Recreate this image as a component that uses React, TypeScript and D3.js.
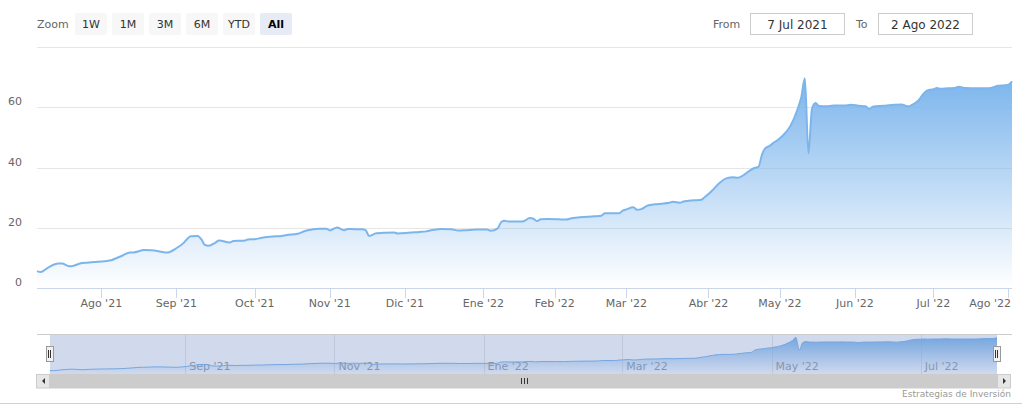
import React from "react";
import * as d3 from "d3";

// ---------- data ----------
const fundData: [string, number][] = [
  ["2021-07-07", 5.6], ["2021-07-08", 5.3], ["2021-07-12", 6.7], ["2021-07-15", 8.1], ["2021-07-16", 8.1],
  ["2021-07-20", 7.2], ["2021-07-21", 7.3], ["2021-07-23", 8.1], ["2021-07-27", 8.4], ["2021-07-29", 8.6],
  ["2021-08-03", 8.9], ["2021-08-05", 9.3], ["2021-08-06", 9.8], ["2021-08-10", 10.8], ["2021-08-12", 11.8],
  ["2021-08-13", 11.8], ["2021-08-19", 12.6], ["2021-08-23", 12.5], ["2021-08-25", 12.2], ["2021-08-27", 11.8],
  ["2021-08-30", 11.9], ["2021-09-01", 13.2], ["2021-09-03", 14.9], ["2021-09-06", 16.2], ["2021-09-07", 17.2],
  ["2021-09-09", 17.3], ["2021-09-10", 16.2], ["2021-09-13", 14.3], ["2021-09-14", 14.0], ["2021-09-16", 15.1],
  ["2021-09-17", 15.8], ["2021-09-22", 15.1], ["2021-09-23", 15.6], ["2021-09-28", 15.7], ["2021-09-29", 16.1],
  ["2021-10-01", 16.2], ["2021-10-05", 16.7], ["2021-10-08", 17.1], ["2021-10-12", 17.2], ["2021-10-14", 17.6],
  ["2021-10-19", 18.0], ["2021-10-21", 18.9], ["2021-10-25", 19.4], ["2021-10-27", 19.7], ["2021-10-29", 19.7],
  ["2021-11-02", 19.1], ["2021-11-04", 20.1], ["2021-11-08", 19.2], ["2021-11-09", 19.6], ["2021-11-11", 19.5],
  ["2021-11-15", 19.5], ["2021-11-16", 19.2], ["2021-11-17", 17.3], ["2021-11-19", 18.2], ["2021-11-23", 18.3],
  ["2021-11-26", 18.4], ["2021-11-29", 18.1], ["2021-12-02", 18.3], ["2021-12-07", 18.6], ["2021-12-09", 18.8],
  ["2021-12-13", 19.3], ["2021-12-15", 19.6], ["2021-12-20", 19.5], ["2021-12-22", 19.1], ["2021-12-24", 19.2],
  ["2021-12-29", 19.4], ["2022-01-04", 19.4], ["2022-01-05", 19.0], ["2022-01-10", 19.8], ["2022-01-11", 21.9],
  ["2022-01-12", 22.3], ["2022-01-13", 22.1], ["2022-01-19", 22.1], ["2022-01-21", 23.2], ["2022-01-24", 23.0],
  ["2022-01-25", 22.2], ["2022-01-26", 22.8], ["2022-01-28", 22.9], ["2022-02-02", 22.8], ["2022-02-04", 22.7],
  ["2022-02-08", 23.2], ["2022-02-10", 23.5], ["2022-02-16", 23.8], ["2022-02-18", 24.0], ["2022-02-21", 24.8],
  ["2022-02-25", 24.8], ["2022-02-28", 25.7], ["2022-03-01", 26.1], ["2022-03-03", 26.8], ["2022-03-04", 26.0],
  ["2022-03-07", 26.1], ["2022-03-09", 27.4], ["2022-03-11", 27.8], ["2022-03-15", 28.0], ["2022-03-17", 28.3],
  ["2022-03-18", 28.6], ["2022-03-22", 28.3], ["2022-03-23", 28.7], ["2022-03-28", 29.1], ["2022-03-30", 29.3],
  ["2022-03-31", 30.2], ["2022-04-04", 32.3], ["2022-04-06", 34.8], ["2022-04-08", 36.4], ["2022-04-12", 36.8],
  ["2022-04-13", 36.6], ["2022-04-18", 37.6], ["2022-04-19", 38.5], ["2022-04-21", 39.9], ["2022-04-22", 40.2],
  ["2022-04-25", 44.3], ["2022-04-26", 46.5], ["2022-04-27", 47.1], ["2022-04-28", 48.0], ["2022-05-03", 49.7],
  ["2022-05-04", 50.8], ["2022-05-06", 53.9], ["2022-05-10", 59.5], ["2022-05-11", 63.3], ["2022-05-12", 69.6],
  ["2022-05-13", 44.7], ["2022-05-16", 59.5], ["2022-05-17", 61.4], ["2022-05-18", 60.4], ["2022-05-20", 60.3],
  ["2022-05-24", 60.6], ["2022-05-27", 60.6], ["2022-05-31", 60.8], ["2022-06-02", 60.5], ["2022-06-06", 60.3],
  ["2022-06-07", 59.4], ["2022-06-08", 60.2], ["2022-06-13", 60.5], ["2022-06-16", 60.8], ["2022-06-20", 60.9],
  ["2022-06-22", 60.3], ["2022-06-23", 60.8], ["2022-06-24", 61.5], ["2022-06-27", 62.5], ["2022-06-28", 64.2],
  ["2022-06-29", 65.4], ["2022-06-30", 65.8], ["2022-07-01", 66.0], ["2022-07-04", 66.4], ["2022-07-05", 66.1],
  ["2022-07-07", 66.3], ["2022-07-11", 66.4], ["2022-07-12", 66.8], ["2022-07-14", 66.4], ["2022-07-19", 66.3],
  ["2022-07-22", 66.3], ["2022-07-25", 66.4], ["2022-07-27", 67.1], ["2022-07-29", 67.3], ["2022-08-01", 67.5],
  ["2022-08-02", 68.6],
];

// non-trading days removed from the ordinal axis
const holidays = ["2021-08-16", "2021-11-01", "2021-12-31", "2022-01-06", "2022-04-15", "2022-05-02"];
const startDate = "2021-07-07";
const endDate = "2022-08-02";
const monthNames = ["Ene", "Feb", "Mar", "Abr", "May", "Jun", "Jul", "Ago", "Sep", "Oct", "Nov", "Dic"];
const navMonths = [8, 10, 0, 2, 4, 6];
const yTicks = [0, 20, 40, 60, 80];
const rangeButtons = ["1W", "1M", "3M", "6M", "YTD", "All"];
const selectedButton = "All";
const fromLabel = "7 Jul 2021";
const toLabel = "2 Ago 2022";
const creditText = "Estrategias de Inversión";

// ---------- helpers ----------
const parse = (s: string) => {
  const [y, m, d] = s.split("-").map(Number);
  return new Date(Date.UTC(y, m - 1, d));
};
const key = (d: Date) => d.toISOString().slice(0, 10);

function buildCalendar() {
  const hol = new Set(holidays);
  const days: Date[] = [];
  const end = parse(endDate).getTime();
  for (let t = parse(startDate).getTime(); t <= end; t += 86400000) {
    const d = new Date(t);
    const wd = d.getUTCDay();
    if (wd === 0 || wd === 6) continue;
    if (hol.has(key(d))) continue;
    days.push(d);
  }
  return days;
}

const FONT = "'DejaVu Sans', Verdana, sans-serif";

export default function App() {
  const W = 1032, H = 415;
  const left = 37, right = 1012, top = 47, bottom = 288;
  const navLeft = 50, navRight = 997, navTop = 334, navBottom = 374;
  const sbBottom = 388.5;

  const cal = buildCalendar();
  const idx = new Map<string, number>();
  cal.forEach((d, i) => idx.set(key(d), i));
  const N = cal.length;

  const x = d3.scaleLinear().domain([0, N - 1]).range([left, right]);
  const y = d3.scaleLinear().domain([0, 80]).range([bottom, top]);
  const xn = d3.scaleLinear().domain([0, N - 1]).range([navLeft, navRight]);
  const vals = fundData.map((d) => d[1]);
  const vmin = d3.min(vals)!, vmax = d3.max(vals)!;
  const pad = (vmax - vmin) * 0.1;
  const yn = d3.scaleLinear().domain([vmin - pad, vmax + pad]).range([navBottom, navTop]);

  const pts = fundData.map(([d, v]) => ({ i: idx.get(d)!, v }));

  const area = d3.area<{ i: number; v: number }>()
    .x((d) => x(d.i)).y0(bottom).y1((d) => y(d.v)).curve(d3.curveMonotoneX);
  const line = d3.line<{ i: number; v: number }>()
    .x((d) => x(d.i)).y((d) => y(d.v)).curve(d3.curveMonotoneX);
  const navArea = d3.area<{ i: number; v: number }>()
    .x((d) => xn(d.i)).y0(navBottom).y1((d) => yn(d.v)).curve(d3.curveMonotoneX);
  const navLine = d3.line<{ i: number; v: number }>()
    .x((d) => xn(d.i)).y((d) => yn(d.v)).curve(d3.curveMonotoneX);

  // month ticks: first trading day of each month
  const monthTicks: { i: number; label: string; m: number }[] = [];
  let lastMonth = cal[0].getUTCMonth();
  cal.forEach((d, i) => {
    const m = d.getUTCMonth();
    if (m !== lastMonth) {
      monthTicks.push({ i, m, label: `${monthNames[m]} '${String(d.getUTCFullYear()).slice(2)}` });
      lastMonth = m;
    }
  });
  const navTicks = monthTicks.filter((t) => navMonths.includes(t.m));

  const rifX = (navLeft + navRight) / 2;

  return (
    <svg width={W} height={H} style={{ position: "absolute", left: 0, top: 0, fontFamily: FONT }}>
      <defs>
        <linearGradient id="mainGrad" x1="0" y1="0" x2="0" y2="1">
          <stop offset="0" stopColor="#7cb5ec" stopOpacity={1} />
          <stop offset="1" stopColor="#7cb5ec" stopOpacity={0} />
        </linearGradient>
        <linearGradient id="navGrad" x1="0" y1="0" x2="0" y2="1">
          <stop offset="0" stopColor="#7cb5ec" stopOpacity={1} />
          <stop offset="1" stopColor="#7cb5ec" stopOpacity={0} />
        </linearGradient>
      </defs>
      <rect x={0} y={0} width={W} height={H} fill="#fff" />

      {/* range selector */}
      <text x={37} y={28} fontSize={11} fill="#666">Zoom</text>
      {rangeButtons.map((b, i) => {
        const bx = 75 + i * 37;
        const sel = b === selectedButton;
        return (
          <g key={b}>
            <rect x={bx} y={13} width={32} height={22} rx={2} fill={sel ? "#e6ebf5" : "#f7f7f7"} />
            <text x={bx + 16} y={28} textAnchor="middle" fontSize={11}
              fill={sel ? "#000" : "#333"} fontWeight={sel ? "bold" : "normal"}>{b}</text>
          </g>
        );
      })}
      <text x={713} y={28} fontSize={11} fill="#666">From</text>
      <rect x={750.5} y={13.5} width={94} height={21} fill="#fff" stroke="#cccccc" />
      <text x={797.5} y={28.5} fontSize={12} fill="#333" textAnchor="middle">{fromLabel}</text>
      <text x={856} y={28} fontSize={11} fill="#666">To</text>
      <rect x={878.5} y={13.5} width={94} height={21} fill="#fff" stroke="#cccccc" />
      <text x={925.5} y={28.5} fontSize={12} fill="#333" textAnchor="middle">{toLabel}</text>

      {/* grid */}
      {yTicks.filter((t) => t > 0).map((t) => (
        <line key={t} x1={left} x2={right} y1={Math.round(y(t)) + 0.5} y2={Math.round(y(t)) + 0.5} stroke="#e6e6e6" />
      ))}
      {yTicks.filter((t) => t < 80).map((t) => (
        <text key={t} x={22} y={y(t) - 2} fontSize={11} fill="#666" textAnchor="end">{t}</text>
      ))}

      {/* series */}
      <path d={area(pts)!} fill="url(#mainGrad)" />
      <path d={line(pts)!} fill="none" stroke="#7cb5ec" strokeWidth={2} strokeLinejoin="round" />

      {/* x axis */}
      <line x1={left} x2={right} y1={bottom + 0.5} y2={bottom + 0.5} stroke="#ccd6eb" />
      {monthTicks.map((t) => {
        const tx = x(t.i);
        const overflow = tx + 21 > right;
        return (
          <g key={t.i}>
            <line x1={Math.round(tx) + 0.5} x2={Math.round(tx) + 0.5} y1={bottom} y2={bottom + 10} stroke="#ccd6eb" />
            <text x={overflow ? right - 1 : tx} y={307} fontSize={11} fill="#666"
              textAnchor={overflow ? "end" : "middle"}>{t.label}</text>
          </g>
        );
      })}

      {/* navigator */}
      {navTicks.map((t) => (
        <g key={"n" + t.i}>
          <line x1={Math.round(xn(t.i)) + 0.5} x2={Math.round(xn(t.i)) + 0.5} y1={navTop} y2={navBottom} stroke="#e6e6e6" />
          <text x={xn(t.i) + 4} y={370} fontSize={11} fill="#999">{t.label}</text>
        </g>
      ))}
      <path d={navArea(pts)!} fill="url(#navGrad)" />
      <path d={navLine(pts)!} fill="none" stroke="#7cb5ec" strokeWidth={1} />
      <rect x={navLeft} y={navTop} width={navRight - navLeft} height={navBottom - navTop} fill="rgba(102,133,194,0.3)" />
      <line x1={left} x2={right} y1={navTop + 0.5} y2={navTop + 0.5} stroke="#cccccc" />
      {[navLeft, navRight].map((hx, k) => (
        <g key={"h" + k}>
          <rect x={Math.round(hx) - 3.5} y={346.5} width={7} height={15} fill="#f2f2f2" stroke="#999999" />
          <line x1={Math.round(hx) - 1.5} x2={Math.round(hx) - 1.5} y1={350} y2={358} stroke="#333" />
          <line x1={Math.round(hx) + 0.5} x2={Math.round(hx) + 0.5} y1={350} y2={358} stroke="#333" />
        </g>
      ))}

      {/* scrollbar */}
      <rect x={navLeft} y={navBottom} width={navRight - navLeft} height={sbBottom - navBottom} fill="#cccccc" />
      <rect x={left - 0.5} y={navBottom + 0.5} width={navLeft - left} height={sbBottom - navBottom - 1} fill="#e6e6e6" stroke="#cccccc" />
      <rect x={navRight + 0.5} y={navBottom + 0.5} width={navLeft - left} height={sbBottom - navBottom - 1} fill="#e6e6e6" stroke="#cccccc" />
      <path d={`M ${left + 8} ${navBottom + 4} L ${left + 8} ${navBottom + 10} L ${left + 5} ${navBottom + 7} Z`} fill="#333" />
      <path d={`M ${navRight + 6} ${navBottom + 4} L ${navRight + 6} ${navBottom + 10} L ${navRight + 9} ${navBottom + 7} Z`} fill="#333" />
      {[-3, 0, 3].map((o) => (
        <line key={o} x1={Math.round(rifX) + o + 0.5} x2={Math.round(rifX) + o + 0.5} y1={navBottom + 4} y2={navBottom + 10} stroke="#333" />
      ))}

      {/* credits & frame */}
      <text x={1011} y={397} fontSize={9} fill="#999" textAnchor="end">{creditText}</text>
      <line x1={0} x2={1022} y1={403.5} y2={403.5} stroke="#cfcfdc" />
    </svg>
  );
}
